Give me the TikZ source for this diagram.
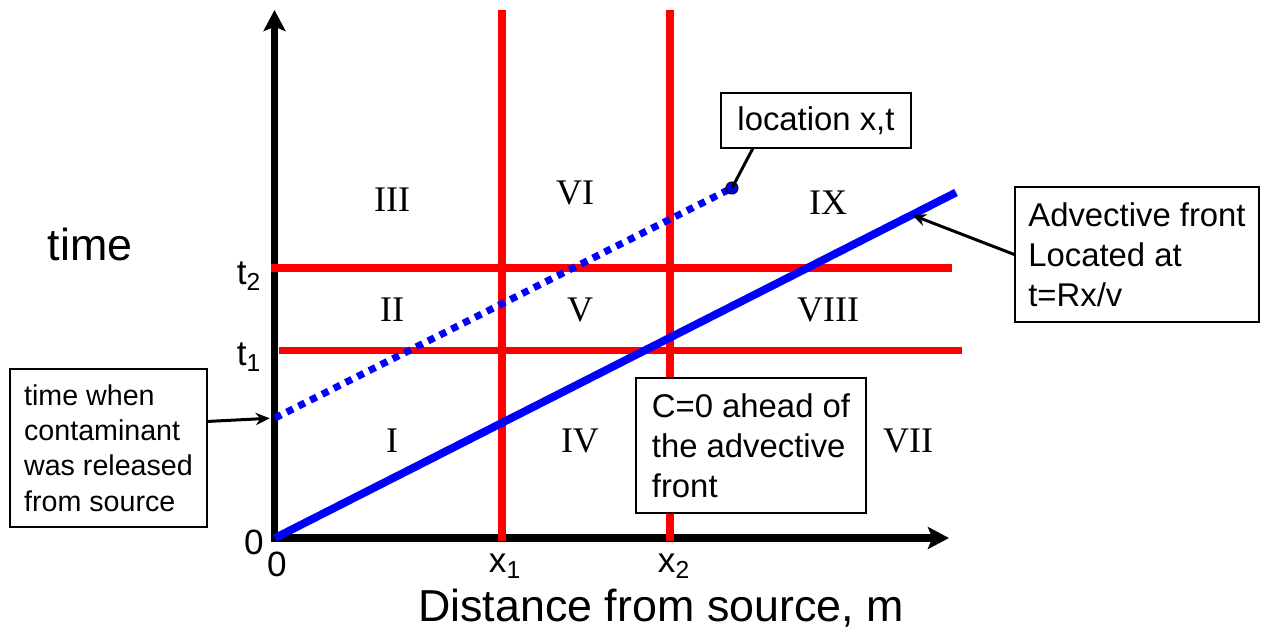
\documentclass[tikz,border=0pt]{standalone}
\usepackage{fontspec}
\setmainfont{Liberation Sans}
\newfontfamily\numeralfont{Liberation Serif}
\usetikzlibrary{arrows.meta}
\definecolor{frontblue}{HTML}{0000FF}
\definecolor{zonered}{HTML}{FF0000}
\newcommand{\fntbox}{\fontsize{18.7}{22.8}\selectfont}
\newcommand{\fntsmall}{\fontsize{16.3}{20.1}\selectfont}
\newcommand{\fnttick}{\fontsize{20}{24}\selectfont}
\newcommand{\fntbig}{\fontsize{25.5}{30}\selectfont}
\newcommand{\fntroman}{\numeralfont\fontsize{20.5}{24}\selectfont}

\begin{document}
\begin{tikzpicture}[x=0.02cm, y=-0.02cm,
  axis/.style={line width=4.3pt, line join=miter, {Stealth[length=12pt, width=12.5pt, inset=2.5pt]}-{Stealth[length=12pt, width=12.5pt, inset=2.5pt]}},
  zone/.style={zonered, line width=4pt},
  front/.style={frontblue, line width=4.5pt},
  frontdot/.style={frontblue, line width=4pt, dash pattern=on 4pt off 3.5pt},
  box/.style={draw, line width=0.8pt, fill=white, inner sep=0pt, align=left},
  arrow/.style={-{Stealth[length=8pt, width=7pt]}, line width=1.7pt},
  region/.style={font=\fntroman, inner sep=0pt},
  tick/.style={font=\fnttick, inner sep=0pt},
]
\useasboundingbox (0,0) rectangle (1261,633);

% ── Axes ──
\coordinate (O) at (275,538);
\coordinate (ytop) at (274.5,10);
\coordinate (xend) at (949,538);
\draw[axis] (ytop) -- (274.5,538) -- (xend);

% ── Zone boundaries ──
\coordinate (x1top) at (502,10);
\coordinate (x1bot) at (502,541);
\coordinate (x2top) at (670,10);
\coordinate (x2bot) at (670,541);
\coordinate (t2a) at (271,268);
\coordinate (t2b) at (952,268);
\coordinate (t1a) at (279,350.5);
\coordinate (t1b) at (962,350.5);
\draw[zone] (x1top) -- (x1bot);
\draw[zone] (x2top) -- (x2bot);
\draw[zone] (t2a) -- (t2b);
\draw[zone] (t1a) -- (t1b);

% ── Fronts ──
\coordinate (frontend) at (956,192.5);
\coordinate (frontpt) at (912,215);
\coordinate (release) at (275,418);
\coordinate (xt) at (732,188);
\draw[front] (O) -- (frontend);
\draw[frontdot] (release) -- (xt);
\fill[frontblue, draw=black, line width=0.6pt] (xt) circle[radius=0.12cm];

% ── Region numerals ──
\node[region] (rIII) at (392,200) {III};
\node[region] (rVI) at (575,193) {VI};
\node[region] (rIX) at (828,203) {IX};
\node[region] (rII) at (392,310) {II};
\node[region] (rV) at (580,310) {V};
\node[region] (rVIII) at (828,310) {VIII};
\node[region] (rI) at (392,441) {I};
\node[region] (rIV) at (580,441) {IV};
\node[region] (rVII) at (908,441) {VII};

% ── Axis labels ──
\node[tick] (lt2) at (249,276) {t\textsubscript{2}};
\node[tick] (lt1) at (249,357) {t\textsubscript{1}};
\node[tick] (lzy) at (254,542) {0};
\node[tick] (lzx) at (277,564) {0};
\node[tick] (lx1) at (505,566) {x\textsubscript{1}};
\node[tick] (lx2) at (674,566) {x\textsubscript{2}};
\node[font=\fntbig, inner sep=0pt] (ltime) at (90,244) {time};
\node[font=\fntbig, inner sep=0pt] (ldist) at (661,608) {Distance from source, m};

% ── Callout boxes ──
\node[box, font=\fntsmall, minimum width=3.94cm, minimum height=3.16cm] (timebox) at (108.5,448) {time when\\contaminant\\was released\\from source};
\node[box, font=\fntbox, minimum width=3.8cm, minimum height=1.1cm] (locbox) at (816,120.5) {location x,t};
\node[box, font=\fntbox, minimum width=4.88cm, minimum height=2.7cm] (advbox) at (1137,254.5) {Advective front\\Located at\\t=Rx/v};
\node[box, font=\fntbox, minimum width=4.6cm, minimum height=2.7cm] (cbox) at (751,445.5) {C=0 ahead of\\the advective\\front};

% ── Pointers ──
\draw[arrow, shorten >=3pt] (timebox.15) -- (release);
\draw[arrow] (advbox.west) -- (frontpt);
\draw[line width=1.7pt] (locbox.204) -- (xt);

\end{tikzpicture}
\end{document}
